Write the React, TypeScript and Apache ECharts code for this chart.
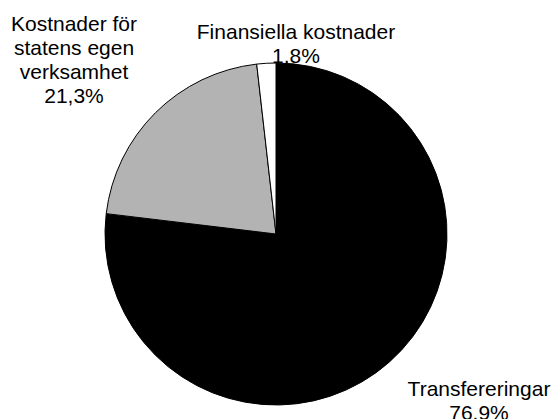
import React, { useEffect, useRef } from "react";
import * as echarts from "echarts";

const categories = [
  "Transfereringar",
  "Kostnader för\nstatens egen\nverksamhet",
  "Finansiella kostnader",
];
const values = [76.9, 21.3, 1.8];
const valueLabels = ["76.9%", "21,3%", "1,8%"];
const colors = ["#000000", "#b3b3b3", "#ffffff"];
// label anchor positions (center of text block) in px
const labelPos = [
  [479, 400],
  [74, 59],
  [296, 43],
];

export default function App() {
  const ref = useRef<HTMLDivElement>(null);
  useEffect(() => {
    if (!ref.current) return;
    const chart = echarts.init(ref.current, null, { renderer: "svg" });
    chart.setOption({
      animation: false,
      backgroundColor: "#ffffff",
      series: [
        {
          type: "pie",
          center: [276, 234],
          radius: 171,
          startAngle: 90,
          clockwise: true,
          avoidLabelOverlap: false,
          data: categories.map((name, i) => ({
            name,
            value: values[i],
            itemStyle: { color: colors[i] },
          })),
          itemStyle: { borderColor: "#000000", borderWidth: 1 },
          label: {
            show: true,
            position: "outside",
            formatter: (p: any) => `${p.name}\n${valueLabels[p.dataIndex]}`,
            fontFamily: "Liberation Sans, Arial, sans-serif",
            fontSize: 21,
            lineHeight: 24,
            color: "#000000",
            align: "center",
          },
          labelLine: { show: false },
          labelLayout: (params: any) => ({
            x: labelPos[params.dataIndex][0],
            y: labelPos[params.dataIndex][1],
            align: "center",
            verticalAlign: "middle",
          }),
          emphasis: { disabled: true },
        },
      ],
    });
    return () => chart.dispose();
  }, []);
  return (
    <div
      ref={ref}
      style={{ position: "fixed", left: 0, top: 0, width: 554, height: 419, background: "#fff" }}
    />
  );
}
